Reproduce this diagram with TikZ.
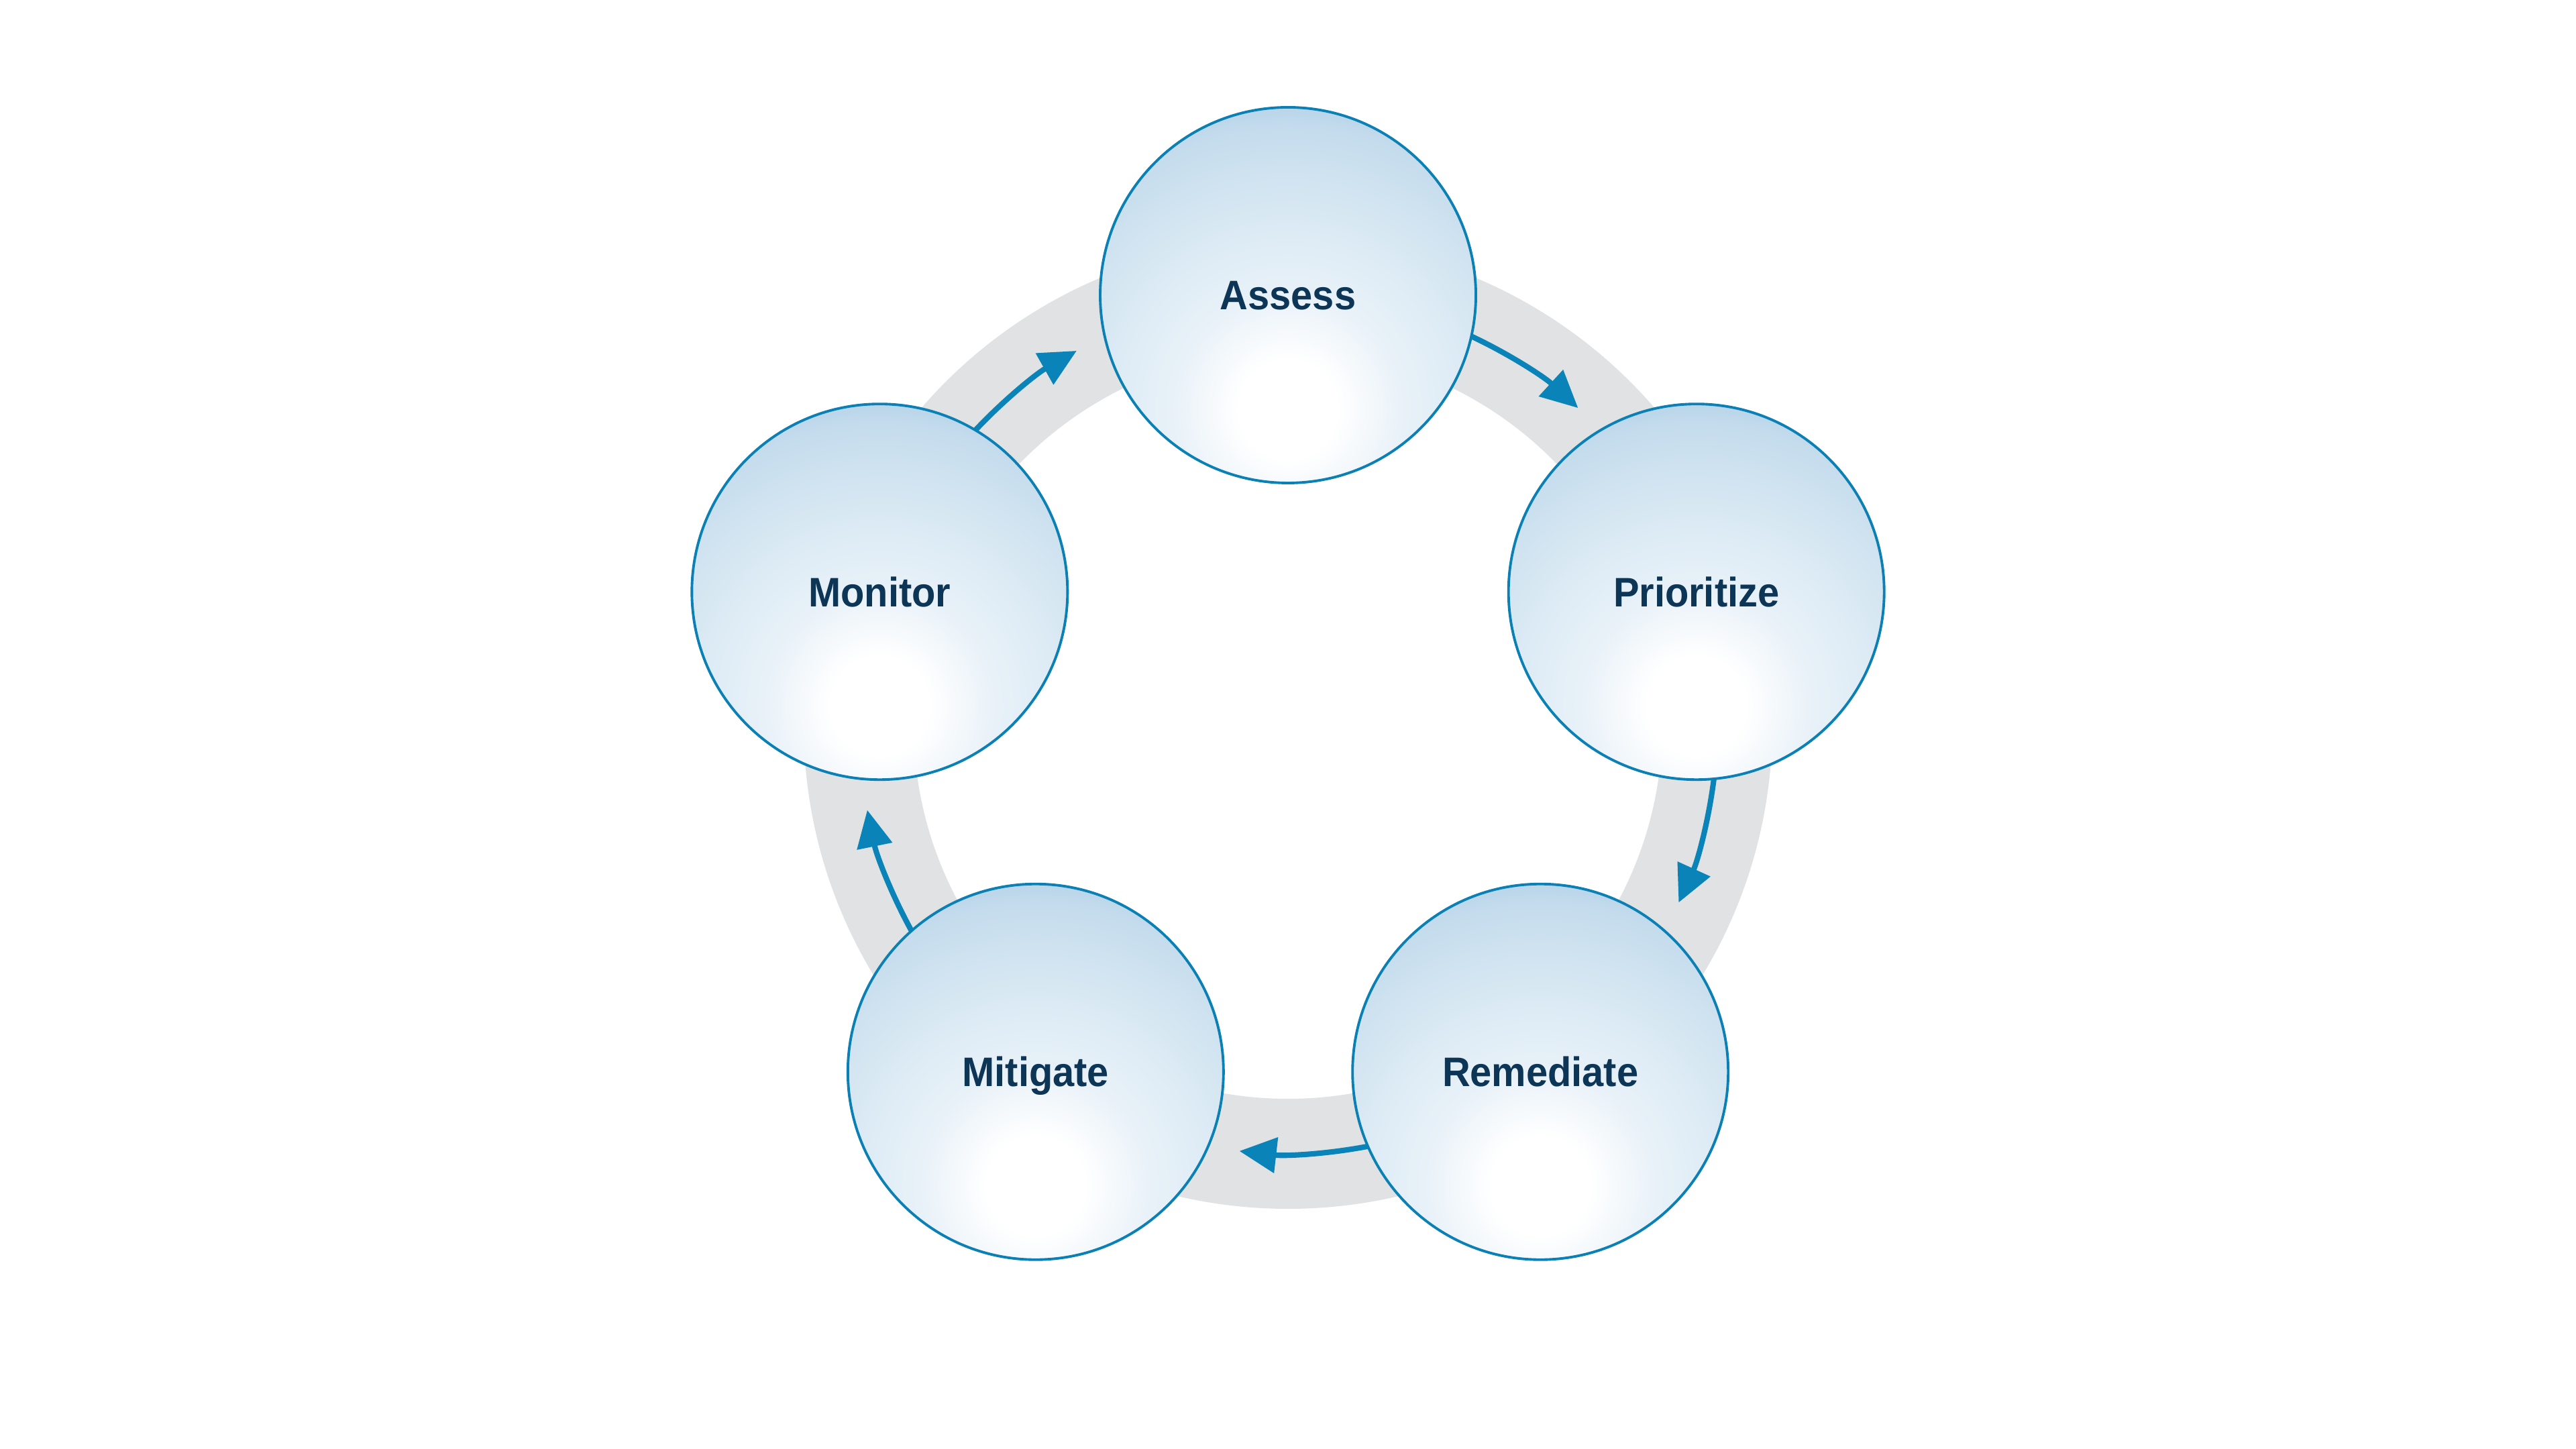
\documentclass[tikz,border=0pt]{standalone}
\usepackage{fontspec}
\setmainfont{Liberation Sans}
\newfontfamily\lblfont[FakeStretch=0.94]{Liberation Sans}
\usetikzlibrary{arrows.meta,calc}
\definecolor{ringgray}{HTML}{E1E2E4}
\definecolor{edgeblue}{HTML}{0A80B4}
\definecolor{arrowblue}{HTML}{0A84B8}
\definecolor{textnavy}{HTML}{0C3556}
\definecolor{bubA}{HTML}{E8F1F8}
\definecolor{bubB}{HTML}{E0EDF6}
\definecolor{bubC}{HTML}{D3E5F1}
\definecolor{bubD}{HTML}{C5DCED}
\definecolor{bubE}{HTML}{B6D3E8}
\pgfdeclareradialshading{bubble}{\pgfpoint{0bp}{0bp}}{%
  color(0bp)=(white); color(4bp)=(white); color(9.5bp)=(bubA);
  color(13bp)=(bubB); color(17.8bp)=(bubC); color(22.7bp)=(bubD);
  color(25bp)=(bubE); color(50bp)=(bubE)}
\tikzset{
  stage/.style={circle, minimum size=5.6cm, inner sep=0pt, draw=edgeblue,
    line width=1.1pt, text=textnavy, text height=12.5pt, text depth=0pt,
    font=\lblfont\bfseries\fontsize{17.5pt}{20pt}\selectfont,
    path picture={\shade[shading=bubble]
      ($(path picture bounding box.center)+(0,-1.7)$) circle[radius=4.6cm];}},
  flow/.style={draw=arrowblue, line width=2.3pt,
    -{Triangle[length=0.55cm,width=0.52cm]}},
  ringband/.style={draw=ringgray, line width=1.64cm}
}
\begin{document}
\begin{tikzpicture}
\useasboundingbox (0,0) rectangle (38.4,21.6);
\coordinate (c) at (19.2,10.8);
\draw[ringband] (c) circle[radius=6.4];
% arrow start points
\coordinate (s1) at ($(c)+(66:6.4)$);
\coordinate (s2) at ($(c)+(-6:6.4)$);
\coordinate (s3) at ($(c)+(-78:6.4)$);
\coordinate (s4) at ($(c)+(-150:6.4)$);
\coordinate (s5) at ($(c)+(138:6.4)$);
\draw[flow] (s1) arc[start angle=66, end angle=47.5, radius=6.4];
\draw[flow] (s2) arc[start angle=-6, end angle=-24.5, radius=6.4];
\draw[flow] (s3) arc[start angle=-78, end angle=-96.5, radius=6.4];
\draw[flow] (s4) arc[start angle=-150, end angle=-168.5, radius=6.4];
\draw[flow] (s5) arc[start angle=138, end angle=119.5, radius=6.4];
\node[stage] (assess) at ($(c)+(90:6.4)$) {Assess};
\node[stage] (prior) at ($(c)+(18:6.4)$) {Prioritize};
\node[stage] (remed) at ($(c)+(-54:6.4)$) {Remediate};
\node[stage] (mitig) at ($(c)+(-126:6.4)$) {Mitigate};
\node[stage] (monit) at ($(c)+(162:6.4)$) {Monitor};
\end{tikzpicture}
\end{document}
